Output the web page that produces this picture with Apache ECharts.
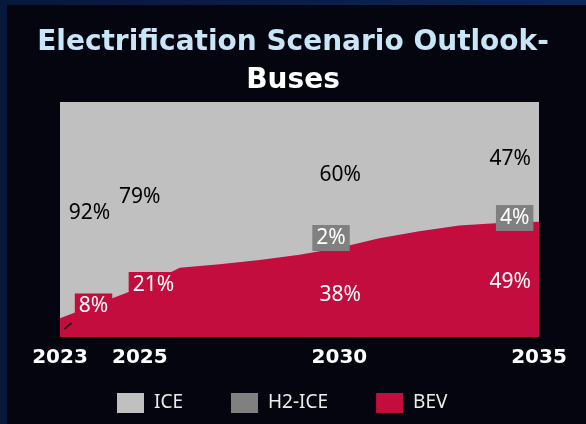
<!DOCTYPE html>
<html>
<head>
    <meta charset="utf-8">
    <title>Electrification Scenario Outlook - Buses</title>
    <script src="https://cdn.jsdelivr.net/npm/echarts@6/dist/echarts.min.js"></script>
    <style>
        html, body { margin: 0; padding: 0; background: #04050e; }
        #chart { width: 586px; height: 424px; }
    </style>
</head>
<body>
<div id="chart"></div>
<script>
    // 数据：每年份额（%）
    var years = [2023, 2024, 2025, 2026, 2027, 2028, 2029, 2030, 2031, 2032, 2033, 2034, 2035];
    var bev = [8, 14.5, 21, 29.5, 31, 32.8, 35, 38, 42, 45, 47.5, 48.5, 49];
    var h2ice = [0, 0, 0, 0.3, 0.6, 1, 1.5, 2, 2.3, 3, 3.8, 4.2, 4];
    var ice = [92, 85.5, 79, 70.2, 68.4, 66.2, 63.5, 60, 55.7, 52, 48.7, 47.3, 47];
    var tickYears = [2023, 2025, 2030, 2035];

    // 数值标签放在哪里（年份, 纵坐标%）
    var labelSpots = [
        {name: 'ICE', year: 2023, at: [2023.74, 52.8]},
        {name: 'ICE', year: 2025, at: [2025.0, 59.6]},
        {name: 'ICE', year: 2030, at: [2030.02, 69.1]},
        {name: 'ICE', year: 2035, at: [2034.28, 75.7]},
        {name: 'BEV', year: 2023, at: [2023.84, 13.0], box: true},
        {name: 'BEV', year: 2025, at: [2025.34, 22.1], box: true},
        {name: 'BEV', year: 2030, at: [2030.02, 17.7]},
        {name: 'BEV', year: 2035, at: [2034.28, 23.6]},
        {name: 'H2-ICE', year: 2030, at: [2029.79, 42.1], box: true},
        {name: 'H2-ICE', year: 2035, at: [2034.39, 50.6], box: true}
    ];
    // 2023 标签的引导线
    var leaderSpot = [2023.2, 4.7];

    var colors = {'ICE': '#c0c0c0', 'H2-ICE': '#808080', 'BEV': '#c20d3e'};
    var values = {'ICE': ice, 'H2-ICE': h2ice, 'BEV': bev};

    function areaSeries(name) {
        return {
            name: name,
            type: 'line',
            stack: 'share',
            symbol: 'none',
            lineStyle: {width: 0},
            itemStyle: {color: colors[name]},
            areaStyle: {color: colors[name], opacity: 1},
            data: years.map(function (y, i) { return [y, values[name][i]]; })
        };
    }

    var labelData = labelSpots.map(function (s) {
        var v = values[s.name][years.indexOf(s.year)];
        var item = {
            value: [s.at[0], s.at[1]],
            label: {formatter: v + '%', color: s.name === 'ICE' ? '#000' : '#fff'}
        };
        if (s.box) {
            item.label.backgroundColor = colors[s.name];
            item.label.padding = [2, 4, 2, 4];
        }
        return item;
    });

    var myChart = echarts.init(document.getElementById('chart'));
    myChart.setOption({
        backgroundColor: {
            type: 'linear', x: 0, y: 0, x2: 1, y2: 0,
            colorStops: [{offset: 0, color: '#08173c'}, {offset: 1, color: '#0e2658'}]
        },
        graphic: [{
            type: 'rect', z: -10, silent: true,
            shape: {x: 7, y: 5, width: 579, height: 419},
            style: {fill: '#04050e'}
        }],
        title: {
            left: 'center',
            top: 19,
            text: '{a|Electrification Scenario Outlook-}\n{b|Buses}',
            textStyle: {
                rich: {
                    a: {fontFamily: 'DejaVu Sans', fontWeight: 'bold', fontSize: 28, color: '#c8e6f8', lineHeight: 38, align: 'center'},
                    b: {fontFamily: 'DejaVu Sans', fontWeight: 'bold', fontSize: 28, color: '#ffffff', lineHeight: 38, align: 'center'}
                }
            }
        },
        legend: {
            data: ['ICE', 'H2-ICE', 'BEV'],
            left: 112,
            top: 388,
            itemWidth: 27,
            itemHeight: 20,
            itemGap: 48,
            icon: 'rect',
            textStyle: {color: '#ececec', fontFamily: 'Noto Sans', fontSize: 19, padding: [0, 0, 0, 5]}
        },
        grid: {left: 60, right: 47, top: 102, bottom: 87, show: true, backgroundColor: '#c0c0c0', borderWidth: 0},
        xAxis: {
            type: 'value',
            min: 2023,
            max: 2035,
            interval: 1,
            splitLine: {show: false},
            axisLine: {show: false},
            axisTick: {show: false},
            axisLabel: {
                color: '#ffffff',
                fontFamily: 'DejaVu Sans',
                fontWeight: 'bold',
                fontSize: 20,
                margin: 11,
                showMinLabel: true,
                showMaxLabel: true,
                formatter: function (v) { return tickYears.indexOf(v) >= 0 ? String(v) : ''; }
            }
        },
        yAxis: {type: 'value', min: 0, max: 100, show: false},
        series: [
            areaSeries('BEV'),
            areaSeries('H2-ICE'),
            areaSeries('ICE'),
            {
                name: 'labels',
                type: 'scatter',
                symbolSize: 0,
                silent: true,
                z: 10,
                itemStyle: {opacity: 1},
                label: {show: true, position: 'inside', fontFamily: 'Noto Sans', fontSize: 21, lineHeight: 22, opacity: 1},
                data: labelData
            },
            {
                name: 'leader',
                type: 'scatter',
                silent: true,
                z: 10,
                symbol: 'rect',
                symbolSize: [1.5, 9],
                symbolRotate: -50,
                itemStyle: {color: '#111', opacity: 1},
                data: [leaderSpot]
            }
        ]
    });
</script>
</body>
</html>
